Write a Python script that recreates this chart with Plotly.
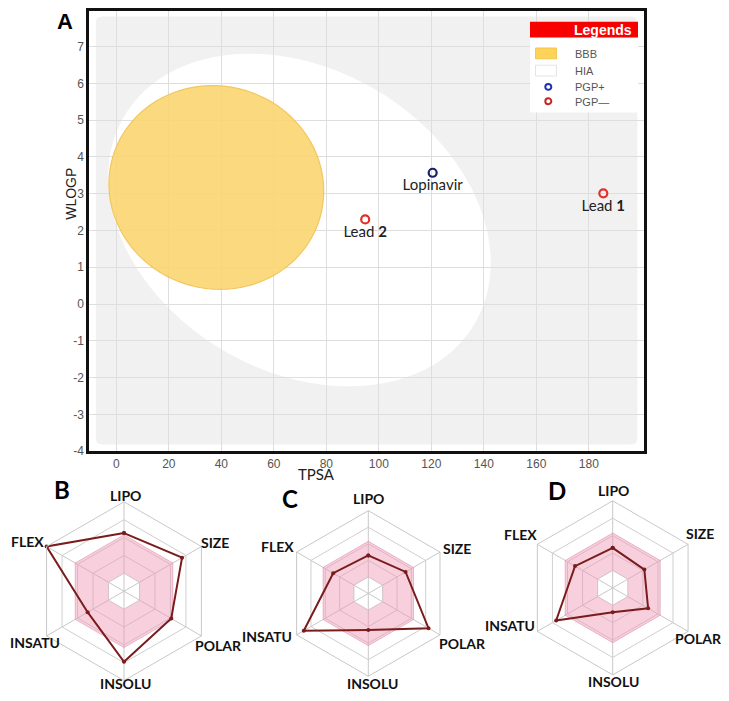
import numpy as np
import plotly.graph_objects as go

# page offset (browser body margin) compensation
OFF = 8
FW, FH = 729 - OFF, 701 - OFF

# ---------------- Panel A data ----------------
compounds = ["Lead 1", "Lead 2", "Lopinavir"]
point_labels = ["Lead <b>1</b>", "Lead <b>2</b>", "Lopinavir"]
tpsa = [185.5, 94.8, 120.5]
wlogp = [3.01, 2.30, 3.57]
pgp_class = ["PGP-", "PGP-", "PGP+"]

x_ticks = [0, 20, 40, 60, 80, 100, 120, 140, 160, 180]
y_ticks = [-4, -3, -2, -1, 0, 1, 2, 3, 4, 5, 6, 7]
y_ticktext = [str(v) for v in y_ticks]

# BOILED-Egg regions (center x, center y, half-width, half-height, tilt term)
bbb_region = [38.1, 3.17, 40.9, 2.77, -4.0]
hia_region = [69.75, 2.285, 72.85, 4.525, -85.0]

legend_items = ["BBB", "HIA", "PGP+", "PGP\u2014"]

# ---------------- Radar data ----------------
radar_axes = ["LIPO", "SIZE", "POLAR", "INSOLU", "INSATU", "FLEX"]
radar_B = [0.65, 0.75, 0.61, 0.79, 0.47, 1.0]
radar_C = [0.46, 0.52, 0.84, 0.44, 0.90, 0.49]
radar_D = [0.46, 0.42, 0.47, 0.28, 0.75, 0.50]
optimal_low = 0.2
optimal_high = 0.63


def px(x):
    return (x - OFF) / FW


def py(y):
    return 1 - (y - OFF) / FH


def ellipse_path(cx, cy, hx, hy, c, n=180):
    a21 = c / hx
    a22 = np.sqrt(hy ** 2 - a21 ** 2)
    t = np.linspace(0, 2 * np.pi, n, endpoint=False)
    xs = cx + hx * np.cos(t)
    ys = cy + a21 * np.cos(t) + a22 * np.sin(t)
    pts = [f"{x:.3f},{y:.4f}" for x, y in zip(xs, ys)]
    return "M " + " L ".join(pts) + " Z"


fig = go.Figure()

pgp_colors = {"PGP+": "#1b1f6b", "PGP-": "#e0302a"}
fig.add_trace(go.Scatter(
    x=tpsa, y=wlogp, mode="markers+text",
    text=point_labels, textposition="bottom center",
    textfont=dict(family="Lato", size=15, color="#222222"),
    marker=dict(symbol="circle-open", size=8,
                color=[pgp_colors[c] for c in pgp_class],
                line=dict(width=2.2)),
    showlegend=False, hoverinfo="x+y", xaxis="x", yaxis="y",
))

shapes = []
# gray rounded background
gx0, gx1, gy0, gy1 = -7.8, 198.5, -3.82, 7.82
rx, ry = 2.5, 0.17
shapes.append(dict(
    type="path", xref="x", yref="y", layer="below",
    path=(f"M {gx0+rx},{gy0} L {gx1-rx},{gy0} Q {gx1},{gy0} {gx1},{gy0+ry} "
          f"L {gx1},{gy1-ry} Q {gx1},{gy1} {gx1-rx},{gy1} L {gx0+rx},{gy1} "
          f"Q {gx0},{gy1} {gx0},{gy1-ry} L {gx0},{gy0+ry} Q {gx0},{gy0} {gx0+rx},{gy0} Z"),
    fillcolor="#f1f1f1", line=dict(width=0),
))
shapes.append(dict(type="path", xref="x", yref="y", layer="below",
                   path=ellipse_path(*hia_region), fillcolor="#ffffff",
                   line=dict(width=0)))
shapes.append(dict(type="path", xref="x", yref="y", layer="between",
                   path=ellipse_path(*bbb_region), fillcolor="#fbd772",
                   opacity=0.9, line=dict(width=1.2, color="#f2c04e")))

# legend box
L0, L1 = 530, 638
shapes.append(dict(type="rect", xref="paper", yref="paper", layer="above",
                   x0=px(L0), x1=px(L1), y0=py(111), y1=py(35),
                   fillcolor="#ffffff", line=dict(width=0)))
shapes.append(dict(type="rect", xref="paper", yref="paper", layer="above",
                   x0=px(L0), x1=px(L1), y0=py(35), y1=py(19),
                   fillcolor="#f70000", line=dict(width=0)))
shapes.append(dict(type="rect", xref="paper", yref="paper", layer="above",
                   x0=px(535.5), x1=px(556.5), y0=py(56.5), y1=py(45.5),
                   fillcolor="#fdd35a", line=dict(width=0.8, color="#f0c040")))
shapes.append(dict(type="rect", xref="paper", yref="paper", layer="above",
                   x0=px(535.5), x1=px(556.5), y0=py(74), y1=py(63),
                   fillcolor="#ffffff", line=dict(width=0.8, color="#dddddd")))
for cy, col in [(85, "#1f2fb5"), (99.5, "#c82525")]:
    shapes.append(dict(type="circle", xref="paper", yref="paper", layer="above",
                       x0=px(545.3), x1=px(551.3), y0=py(cy + 3), y1=py(cy - 3),
                       fillcolor="rgba(0,0,0,0)", line=dict(width=2, color=col)))

annotations = []
annotations.append(dict(text="<b>Legends</b>", x=px(634), y=py(27), xref="paper", yref="paper",
                        xanchor="right", yanchor="middle", showarrow=False,
                        font=dict(family="Arial", size=14, color="#ffffff")))
for lab, yy in zip(legend_items, [51.5, 69, 85.5, 100.5]):
    annotations.append(dict(text=lab, x=px(573), y=py(yy), xref="paper", yref="paper",
                            xanchor="left", yanchor="middle", showarrow=False,
                            font=dict(family="Arial", size=11, color="#555555")))

# axis titles
annotations.append(dict(text="TPSA", x=px(316), y=py(478), xref="paper", yref="paper",
                        xanchor="center", yanchor="middle", showarrow=False,
                        font=dict(family="Lato", size=15, color="#222222")))
annotations.append(dict(text="WLOGP", x=px(71.5), y=py(194), xref="paper", yref="paper",
                        xanchor="center", yanchor="middle", showarrow=False, textangle=-90,
                        font=dict(family="Arial", size=14, color="#222222")))
# panel letters
annotations.append(dict(text="<b>A</b>", x=px(64.5), y=py(19), xref="paper", yref="paper",
                        xanchor="center", yanchor="middle", showarrow=False,
                        font=dict(family="Arial", size=22, color="#000000")))
for letter, (lx, ly) in zip(["B", "C", "D"], [(62, 493), (290, 503), (557, 495)]):
    annotations.append(dict(text=f"<b>{letter}</b>", x=px(lx), y=py(ly), xref="paper", yref="paper",
                            xanchor="center", yanchor="middle", showarrow=False,
                            font=dict(family="Lato", size=24, color="#000000")))

# ---------------- radars ----------------
# (subplot, values, (center x, center y, radius) in page pixels, label centers in page pixels)
radar_sets = [
    ("polar", radar_B, (124, 596.7, 90.7),
     [(125, 500), (215, 547), (218, 652), (125, 690), (35, 649), (27, 546)]),
    ("polar2", radar_C, (368.3, 599, 84),
     [(368, 503), (457, 553), (462, 650), (372, 690), (267, 643), (277, 551)]),
    ("polar3", radar_D, (612.7, 593.3, 88.3),
     [(613, 495), (700, 538), (698, 645), (613, 688), (510, 632), (520, 539)]),
]

theta_closed = radar_axes + [radar_axes[0]]
polar_layouts = {}
for name, vals, (cx, cy, r), lab_pos in radar_sets:
    fig.add_trace(go.Scatterpolar(
        r=[optimal_low] * 7, theta=theta_closed, mode="lines",
        line=dict(width=0, color="rgba(0,0,0,0)"), subplot=name,
        showlegend=False, hoverinfo="skip"))
    fig.add_trace(go.Scatterpolar(
        r=[optimal_high] * 7, theta=theta_closed, mode="lines", fill="tonext",
        fillcolor="rgba(240,150,180,0.45)",
        line=dict(width=1, color="rgba(225,140,170,0.6)"), subplot=name,
        showlegend=False, hoverinfo="skip"))
    fig.add_trace(go.Scatterpolar(
        r=vals + [vals[0]], theta=theta_closed, mode="lines+markers",
        line=dict(width=2, color="#7a1c1c"), marker=dict(size=4, color="#7a1c1c"),
        subplot=name, showlegend=False))
    polar_layouts[name] = dict(
        domain=dict(x=[px(cx - r), px(cx + r)], y=[max(0, py(cy + r)), min(1, py(cy - r))]),
        gridshape="linear", bgcolor="rgba(0,0,0,0)",
        radialaxis=dict(range=[0, 1], tickvals=[0.2, 0.4, 0.6, 0.8],
                        showticklabels=False, ticks="", showline=False,
                        gridcolor="#cfcfcf", gridwidth=1),
        angularaxis=dict(type="category", categoryarray=radar_axes,
                         rotation=90, direction="clockwise",
                         showline=True, linecolor="#c8c8c8", linewidth=1,
                         gridcolor="#c8c8c8", ticks="", showticklabels=False),
    )
    for lab, (lx, ly) in zip(radar_axes, lab_pos):
        annotations.append(dict(text=f"<b>{lab}</b>", x=px(lx), y=py(ly),
                                xref="paper", yref="paper", xanchor="center", yanchor="middle",
                                showarrow=False,
                                font=dict(family="Lato", size=14, color="#111111")))

# main panel: bottom border at page y 454.5 (value -4), 37.3 px per WLOGP unit
y_bottom_px = 454.5
y_top_px = max(OFF, 6.7)
y_top_val = -4 + (y_bottom_px - y_top_px) / 37.3

fig.update_layout(
    width=FW, height=FH, margin=dict(l=0, r=0, t=0, b=0),
    paper_bgcolor="#ffffff", plot_bgcolor="#ffffff",
    showlegend=False,
    xaxis=dict(domain=[px(89), px(644)], range=[-10.4, 201],
               tickvals=x_ticks, ticks="", showgrid=True, gridcolor="#dedede", gridwidth=1,
               zeroline=False, showline=True, linecolor="#111111", linewidth=2.5, mirror=True,
               tickfont=dict(family="Arial", size=12, color="#555555")),
    yaxis=dict(domain=[py(y_bottom_px), py(y_top_px)], range=[-4, y_top_val],
               tickvals=y_ticks, ticktext=y_ticktext, ticks="", showgrid=True,
               gridcolor="#dedede", gridwidth=1,
               zeroline=False, showline=True, linecolor="#111111", linewidth=2.5, mirror=True,
               tickfont=dict(family="Arial", size=12, color="#555555")),
    shapes=shapes, annotations=annotations,
    **polar_layouts,
)

fig.write_html("out.html")
